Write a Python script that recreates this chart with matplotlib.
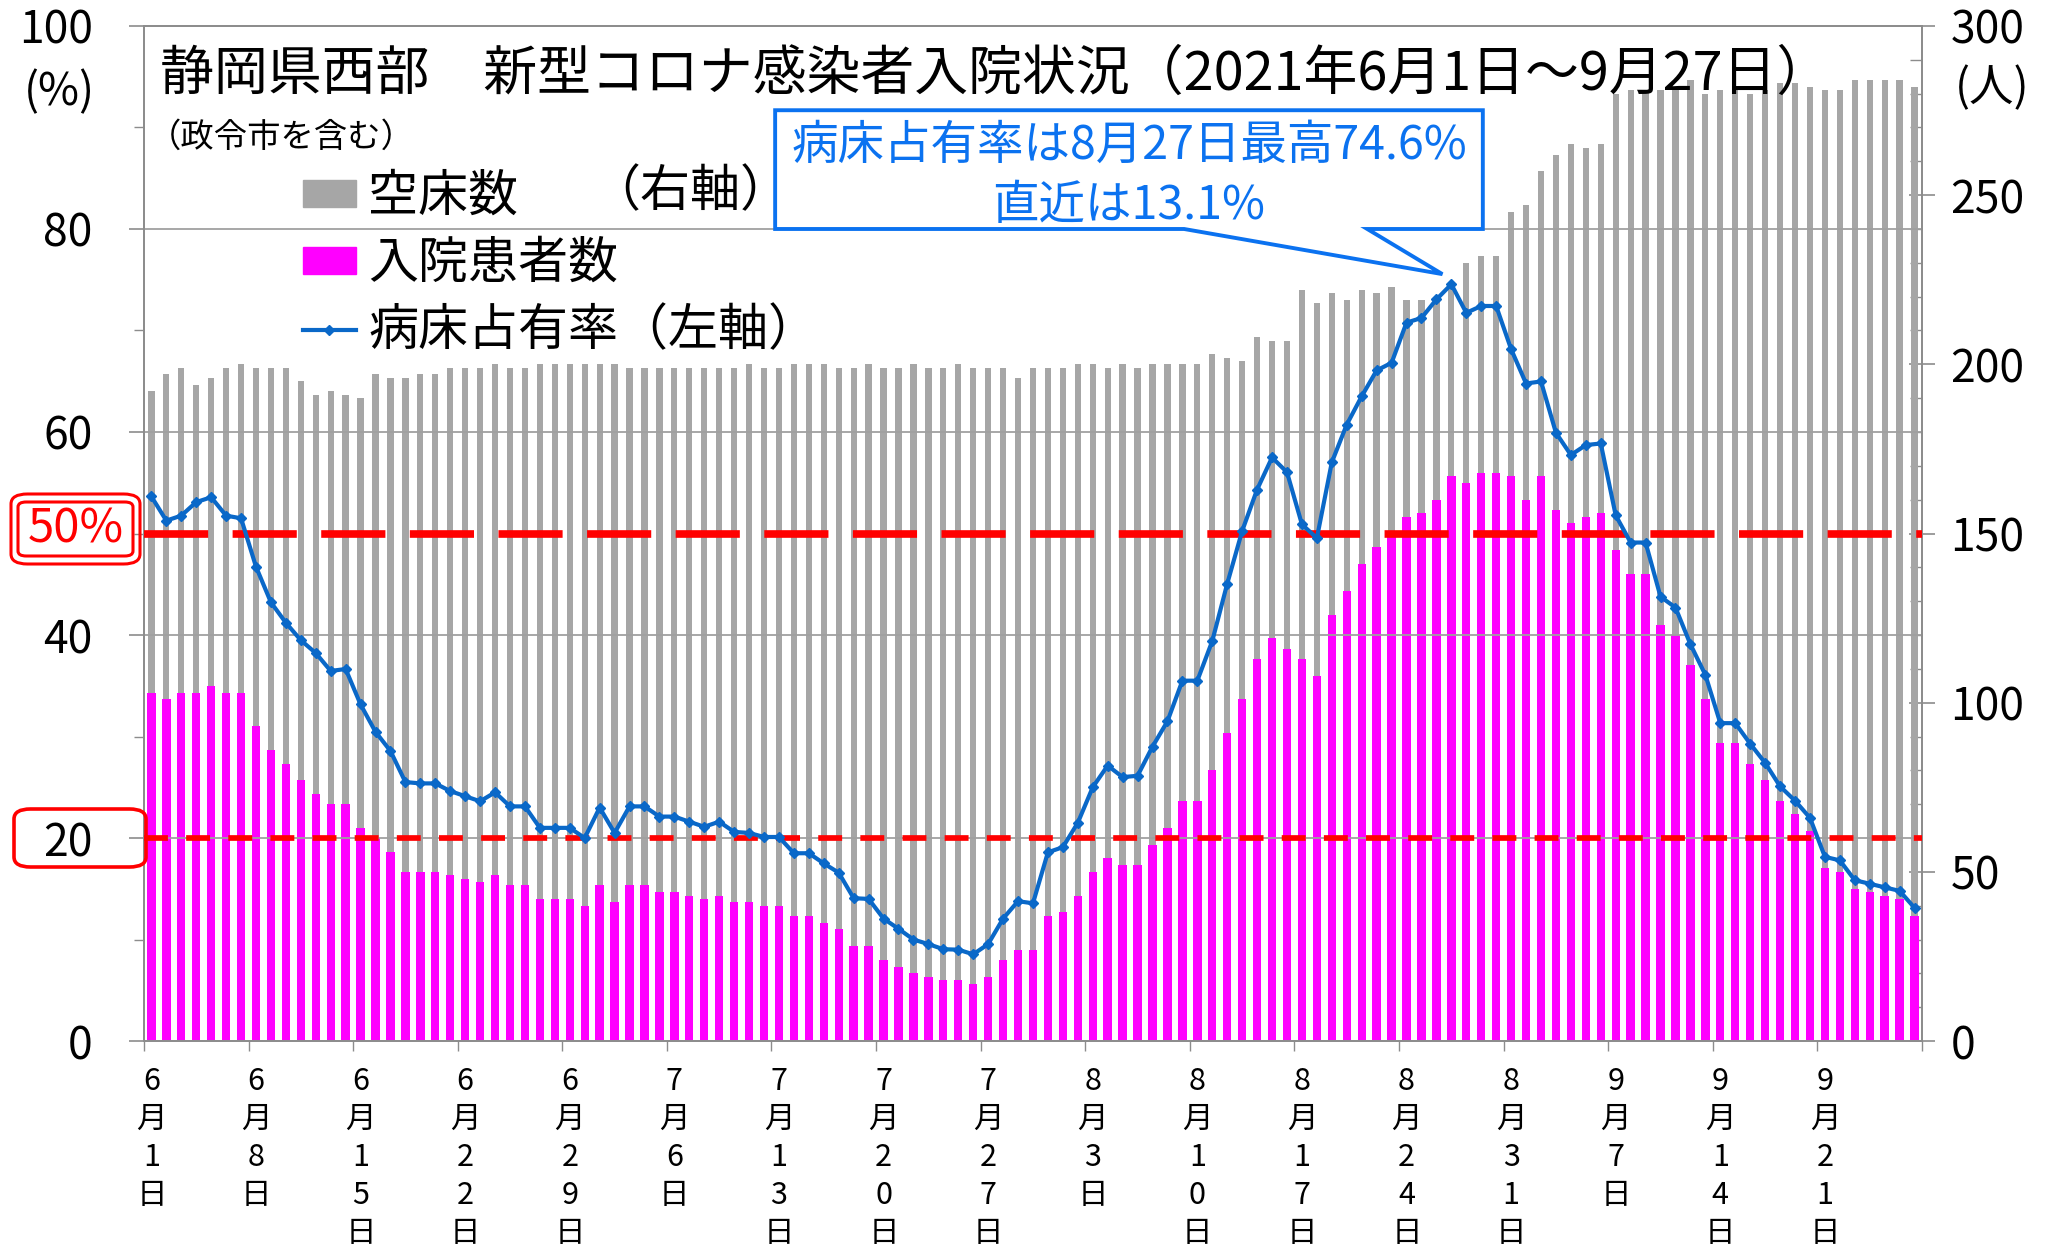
import numpy as np
import pandas as pd
import matplotlib
matplotlib.use("Agg")
import matplotlib.pyplot as plt
from matplotlib.patches import Polygon, FancyBboxPatch, Patch
from matplotlib.lines import Line2D

plt.rcParams['font.family'] = ['Noto Sans CJK JP', 'DejaVu Sans']

dates = pd.date_range('2021-06-01', '2021-09-27', freq='D')

# 確保病床数（入院患者数＋空床数）, 右軸
beds = [192, 197, 199, 194, 196, 199, 200, 199, 199, 199,
        195, 191, 192, 191, 190, 197, 196, 196, 197, 197,
        199, 199, 199, 200, 199, 199, 200, 200, 200, 200,
        200, 200, 199, 199, 199, 199, 199, 199, 199, 199,
        200, 199, 199, 200, 200, 200, 199, 199, 200, 199,
        199, 200, 199, 199, 200, 199, 199, 199, 196, 199,
        199, 199, 200, 200, 199, 200, 199, 200, 200, 200,
        200, 203, 202, 201, 208, 207, 207, 222, 218, 221,
        219, 222, 221, 223, 219, 219, 219, 224, 230, 232,
        232, 245, 247, 257, 262, 265, 264, 265, 280, 281,
        281, 281, 281, 284, 280, 281, 281, 280, 281, 283,
        283, 282, 281, 281, 284, 284, 284, 284, 282]

# 入院患者数, 右軸
patients = [103, 101, 103, 103, 105, 103, 103, 93, 86, 82,
            77, 73, 70, 70, 63, 60, 56, 50, 50, 50,
            49, 48, 47, 49, 46, 46, 42, 42, 42, 40,
            46, 41, 46, 46, 44, 44, 43, 42, 43, 41,
            41, 40, 40, 37, 37, 35, 33, 28, 28, 24,
            22, 20, 19, 18, 18, 17, 19, 24, 27, 27,
            37, 38, 43, 50, 54, 52, 52, 58, 63, 71,
            71, 80, 91, 101, 113, 119, 116, 113, 108, 126,
            133, 141, 146, 149, 155, 156, 160, 167, 165, 168,
            168, 167, 160, 167, 157, 153, 155, 156, 145, 138,
            138, 123, 120, 111, 101, 88, 88, 82, 77, 71,
            67, 62, 51, 50, 45, 44, 43, 42, 37]

beds = np.array(beds)
patients = np.array(patients)
empty = beds - patients
rate = patients / beds * 100

gray = '#a6a6a6'
magenta = '#ff00ff'
blue = '#0a68c8'
callout_blue = '#0b72f0'
red = '#ff0000'
axis_gray = '#8c8c8c'
fs_tick = 32

x = np.arange(len(dates))

fig = plt.figure(figsize=(20.53, 12.55), dpi=100)
ax = fig.add_axes([0.0701, 0.1705, 0.8661, 0.8088])
ax2 = ax.twinx()
ax.set_zorder(ax2.get_zorder() + 1)
ax.patch.set_visible(False)

# bars on right axis
ax2.bar(x, empty, bottom=patients, width=0.42, color=gray, zorder=2)
ax2.bar(x, patients, width=0.56, color=magenta, zorder=3)
ax2.set_ylim(0, 300)
ax2.set_yticks(np.arange(0, 301, 50))
ax2.set_yticks(np.arange(0, 301, 10), minor=True)
ax2.tick_params(axis='y', which='major', direction='inout', length=19,
                width=1.2, color=axis_gray, labelsize=fs_tick, pad=11)
ax2.tick_params(axis='y', which='minor', direction='in', length=9,
                width=1.0, color=axis_gray)

# occupancy line on left axis
ax.set_xlim(-0.5, len(x) - 0.5)
ax.set_ylim(0, 100)
ax.axhline(50, color=red, lw=5.5, ls=(0, (8.4, 3.2)), zorder=3)
ax.axhline(20, color=red, lw=4.1, ls=(0, (4.2, 3.2)), zorder=3)
ax.plot(x, rate, color=blue, lw=3, marker='D', ms=5, zorder=4)

ax.set_yticks(np.arange(0, 101, 20))
ax.set_yticks(np.arange(10, 100, 20), minor=True)
ax.tick_params(axis='y', which='major', direction='out', length=11,
               width=1.2, color=axis_gray, labelsize=fs_tick, pad=26)
ax.tick_params(axis='y', which='minor', direction='out', length=7,
               width=1.0, color=axis_gray)
ax.yaxis.grid(True, which='major', color='#a0a0a0', lw=1.3)

# x ticks at week boundaries, labels vertical
ax.set_xticks(np.arange(0, len(x) + 1, 7) - 0.5)
ax.set_xticklabels([])
ax.tick_params(axis='x', which='major', direction='out', length=7,
               width=1.0, color=axis_gray)
lab_pos = np.arange(0, len(x), 7)
ax.set_xticks(lab_pos, minor=True)
ax.set_xticklabels(['\n'.join(f"{dates[i].month}月{dates[i].day}日")
                    for i in lab_pos], minor=True, linespacing=1.29)
ax.tick_params(axis='x', which='minor', length=0, labelsize=22, pad=18)

for a in (ax, ax2):
    for sp in a.spines.values():
        sp.set_color(axis_gray)
        sp.set_linewidth(1.3)

# unit labels
fig.text(24 / 2053, 1 - 92 / 1255, '(%)', fontsize=fs_tick,
         ha='left', va='center')
fig.text(1955 / 2053, 1 - 88 / 1255, '(人)', fontsize=fs_tick,
         ha='left', va='center')

# 50% / 20% boxes on the left
outer = FancyBboxPatch((11 / 2053, 1 - 564 / 1255), 129 / 2053, 70 / 1255,
                       boxstyle='round,pad=0,rounding_size=0.008',
                       transform=fig.transFigure, fc='none', ec=red, lw=2.2)
inner = FancyBboxPatch((18 / 2053, 1 - 556 / 1255), 115 / 2053, 54 / 1255,
                       boxstyle='round,pad=0,rounding_size=0.004',
                       transform=fig.transFigure, fc='none', ec=red, lw=2.2)
box20 = FancyBboxPatch((14 / 2053, 1 - 867 / 1255), 132 / 2053, 58 / 1255,
                       boxstyle='round,pad=0,rounding_size=0.008',
                       transform=fig.transFigure, fc='none', ec=red, lw=2.6)
for p in (outer, inner, box20):
    fig.patches.append(p)
fig.text(76 / 2053, 1 - 529 / 1255, '50%', color=red, fontsize=34,
         ha='center', va='center')

# titles
ax.text(0.009, 0.9525, '静岡県西部　新型コロナ感染者入院状況（2021年6月1日～9月27日）',
        transform=ax.transAxes, fontsize=38.8, va='center', ha='left', zorder=6)
ax.text(0.002, 0.890, '（政令市を含む）', transform=ax.transAxes,
        fontsize=24, va='center', ha='left', zorder=6)

# legend
handles = [Patch(color=gray), Patch(color=magenta),
           Line2D([], [], color=blue, lw=3, marker='D', ms=5)]
leg = ax.legend(handles, ['空床数', '入院患者数', '病床占有率（左軸）'],
                loc='upper left', bbox_to_anchor=(0.0895, 0.857),
                fontsize=36, frameon=False, handlelength=1.05,
                handleheight=0.45, handletextpad=0.25, labelspacing=0.30,
                borderpad=0, borderaxespad=0)
leg.set_zorder(6)
ax.text(0.251, 0.836, '（右軸）', transform=ax.transAxes, fontsize=36,
        va='center', ha='left', zorder=6)

# callout
ip = int(np.argmax(rate))
tip = ax.transLimits.transform((ip - 0.6, rate[ip] + 1.0))
bx0, bx1, by0, by1 = 0.355, 0.753, 0.800, 0.917
wa, wb = 0.585, 0.688
callout = Polygon([(bx0, by1), (bx1, by1), (bx1, by0), (wb, by0), tuple(tip),
                   (wa, by0), (bx0, by0)], closed=True, transform=ax.transAxes,
                  fc='white', ec=callout_blue, lw=2.8, clip_on=False, zorder=7)
ax.add_patch(callout)
ax.text(0.554, 0.882, '病床占有率は8月27日最高74.6%', transform=ax.transAxes,
        color=callout_blue, fontsize=33.5, ha='center', va='center', zorder=8)
ax.text(0.554, 0.823, '直近は13.1%', transform=ax.transAxes,
        color=callout_blue, fontsize=33.5, ha='center', va='center', zorder=8)

fig.savefig('out.png', dpi=100)
